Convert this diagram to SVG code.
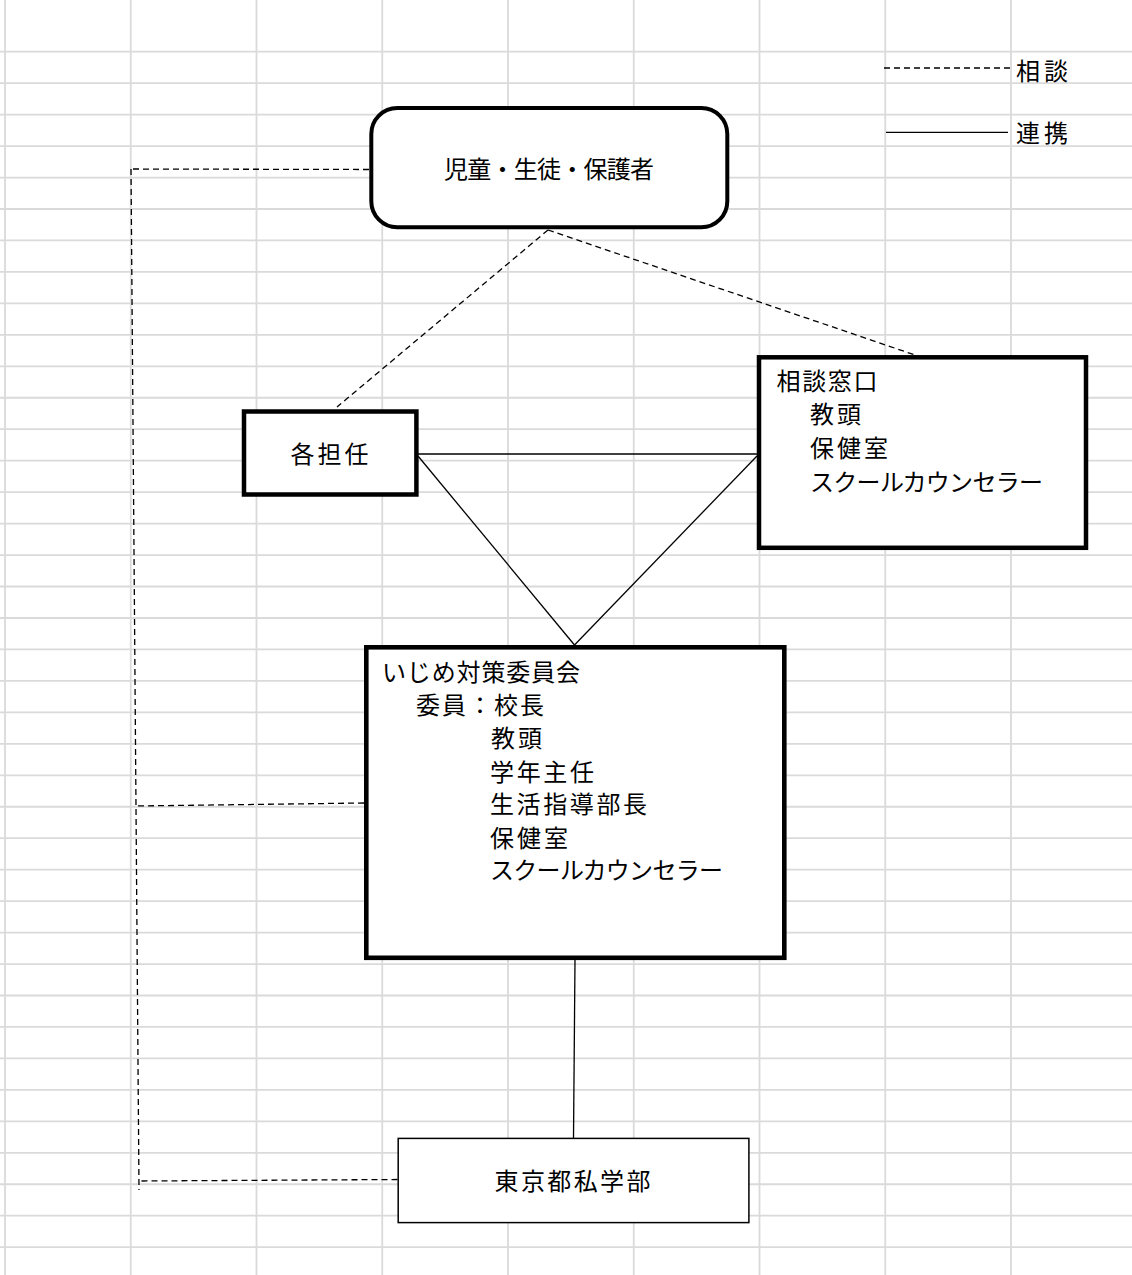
<svg xmlns="http://www.w3.org/2000/svg" width="1132" height="1275" viewBox="0 0 1132 1275">
<style>
.grid line{stroke:#dadada;stroke-width:1.8}
.box{fill:#ffffff;stroke:#000000}
.t{font-family:"Noto Sans CJK JP","Noto Sans CJK SC",sans-serif;font-size:24px;fill:#000000}
.dash{fill:none;stroke:#000000;stroke-width:1.3;stroke-dasharray:6 4}
.solid{fill:none;stroke:#000000;stroke-width:1.3}
</style>
<rect x="0" y="0" width="1132" height="1275" fill="#ffffff"/>
<g class="grid">
<line x1="5" y1="0" x2="5" y2="1275"/>
<line x1="130.75" y1="0" x2="130.75" y2="1275"/>
<line x1="256.5" y1="0" x2="256.5" y2="1275"/>
<line x1="382.25" y1="0" x2="382.25" y2="1275"/>
<line x1="508" y1="0" x2="508" y2="1275"/>
<line x1="633.75" y1="0" x2="633.75" y2="1275"/>
<line x1="759.5" y1="0" x2="759.5" y2="1275"/>
<line x1="885.25" y1="0" x2="885.25" y2="1275"/>
<line x1="1011" y1="0" x2="1011" y2="1275"/>
<line x1="0" y1="51.7" x2="1132" y2="51.7"/>
<line x1="0" y1="83.16" x2="1132" y2="83.16"/>
<line x1="0" y1="114.62" x2="1132" y2="114.62"/>
<line x1="0" y1="146.08" x2="1132" y2="146.08"/>
<line x1="0" y1="177.54" x2="1132" y2="177.54"/>
<line x1="0" y1="209" x2="1132" y2="209"/>
<line x1="0" y1="240.46" x2="1132" y2="240.46"/>
<line x1="0" y1="271.92" x2="1132" y2="271.92"/>
<line x1="0" y1="303.38" x2="1132" y2="303.38"/>
<line x1="0" y1="334.84" x2="1132" y2="334.84"/>
<line x1="0" y1="366.3" x2="1132" y2="366.3"/>
<line x1="0" y1="397.76" x2="1132" y2="397.76"/>
<line x1="0" y1="429.22" x2="1132" y2="429.22"/>
<line x1="0" y1="460.68" x2="1132" y2="460.68"/>
<line x1="0" y1="492.14" x2="1132" y2="492.14"/>
<line x1="0" y1="523.6" x2="1132" y2="523.6"/>
<line x1="0" y1="555.06" x2="1132" y2="555.06"/>
<line x1="0" y1="586.52" x2="1132" y2="586.52"/>
<line x1="0" y1="617.98" x2="1132" y2="617.98"/>
<line x1="0" y1="649.44" x2="1132" y2="649.44"/>
<line x1="0" y1="680.9" x2="1132" y2="680.9"/>
<line x1="0" y1="712.36" x2="1132" y2="712.36"/>
<line x1="0" y1="743.82" x2="1132" y2="743.82"/>
<line x1="0" y1="775.28" x2="1132" y2="775.28"/>
<line x1="0" y1="806.74" x2="1132" y2="806.74"/>
<line x1="0" y1="838.2" x2="1132" y2="838.2"/>
<line x1="0" y1="869.66" x2="1132" y2="869.66"/>
<line x1="0" y1="901.12" x2="1132" y2="901.12"/>
<line x1="0" y1="932.58" x2="1132" y2="932.58"/>
<line x1="0" y1="964.04" x2="1132" y2="964.04"/>
<line x1="0" y1="995.5" x2="1132" y2="995.5"/>
<line x1="0" y1="1026.96" x2="1132" y2="1026.96"/>
<line x1="0" y1="1058.42" x2="1132" y2="1058.42"/>
<line x1="0" y1="1089.88" x2="1132" y2="1089.88"/>
<line x1="0" y1="1121.34" x2="1132" y2="1121.34"/>
<line x1="0" y1="1152.8" x2="1132" y2="1152.8"/>
<line x1="0" y1="1184.26" x2="1132" y2="1184.26"/>
<line x1="0" y1="1215.72" x2="1132" y2="1215.72"/>
<line x1="0" y1="1247.18" x2="1132" y2="1247.18"/>
</g>
<g id="legend">
<line class="dash" x1="884" y1="68" x2="1012" y2="68"/>
<text class="t" x="1016" y="80" textLength="52" lengthAdjust="spacing">相談</text>
<line class="solid" x1="886" y1="132.3" x2="1008" y2="132.3"/>
<text class="t" x="1016" y="142" textLength="52" lengthAdjust="spacing">連携</text>
</g>
<g id="connectors">
<path class="dash" d="M369,169.5 L131,169"/>
<path class="dash" d="M131,169 L139,1190"/>
<path class="dash" d="M364,803 L136,806"/>
<path class="dash" d="M397.5,1179.5 L139,1181"/>
<path class="dash" d="M548,230 L337,407"/>
<path class="dash" d="M548,230 L915,355"/>
<path class="solid" d="M418,454 L757,454"/>
<path class="solid" d="M418,456 L574.5,645"/>
<path class="solid" d="M757,456 L574.5,645"/>
<path class="solid" d="M575,960 L573.5,1138"/>
</g>
<g id="node-jido">
<rect class="box" x="371.3" y="108" width="356" height="119.3" rx="26" ry="26" stroke-width="4"/>
<text class="t" x="444" y="178" textLength="210" lengthAdjust="spacing">児童・生徒・保護者</text>
</g>
<g id="node-kakutannin">
<rect class="box" x="244" y="411.5" width="172.4" height="83" stroke-width="4.5"/>
<text class="t" x="290.5" y="463" textLength="78" lengthAdjust="spacing">各担任</text>
</g>
<g id="node-soudan">
<rect class="box" x="759" y="357.3" width="327" height="190.5" stroke-width="4.5"/>
<text class="t" x="776.5" y="390" textLength="101" lengthAdjust="spacing">相談窓口</text>
<text class="t" x="810" y="423" textLength="51" lengthAdjust="spacing">教頭</text>
<text class="t" x="810" y="457" textLength="78" lengthAdjust="spacing">保健室</text>
<text class="t" x="810" y="491" textLength="233" lengthAdjust="spacing">スクールカウンセラー</text>
</g>
<g id="node-ijime">
<rect class="box" x="366.3" y="647.3" width="418" height="310.5" stroke-width="4.6"/>
<text class="t" x="382" y="681" textLength="198" lengthAdjust="spacing">いじめ対策委員会</text>
<text class="t" x="416" y="714" textLength="128" lengthAdjust="spacing">委員：校長</text>
<text class="t" x="491" y="747" textLength="51" lengthAdjust="spacing">教頭</text>
<text class="t" x="490" y="781" textLength="104" lengthAdjust="spacing">学年主任</text>
<text class="t" x="490" y="813" textLength="157" lengthAdjust="spacing">生活指導部長</text>
<text class="t" x="490" y="847" textLength="78" lengthAdjust="spacing">保健室</text>
<text class="t" x="490" y="879" textLength="233" lengthAdjust="spacing">スクールカウンセラー</text>
</g>
<g id="node-tokyo">
<rect class="box" x="398.2" y="1138.4" width="350.7" height="84.2" stroke-width="1.5"/>
<text class="t" x="494.5" y="1190" textLength="156" lengthAdjust="spacing">東京都私学部</text>
</g>
</svg>
